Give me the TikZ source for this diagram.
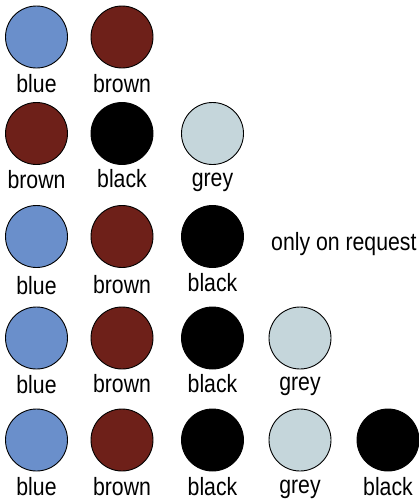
\documentclass[tikz,border=0pt]{standalone}
\usepackage{fontspec}
\newfontfamily\narrowsans{Liberation Sans}[FakeStretch=0.85]
\usetikzlibrary{positioning}
\definecolor{wireblue}{RGB}{106,143,203}
\definecolor{wirebrown}{RGB}{110,32,25}
\definecolor{wiregrey}{RGB}{197,214,219}

\begin{document}
\begin{tikzpicture}[
  x=1pt, y=-1pt,
  font=\narrowsans\fontsize{25}{29}\selectfont,
  swatch/.style={circle, draw=black, line width=0.9pt, fill=#1,
                 minimum size=62pt, inner sep=0pt},
  lbl/.style={anchor=base, inner sep=0pt},
]
\useasboundingbox (0,0) rectangle (419,501);

% ---- Row 1 ----
\node[swatch=wireblue]  (a1) at (36.5,37) {};
\node[swatch=wirebrown] (a2) at (122,37) {};
\node[lbl] (ta1) at (36.5,92) {blue};
\node[lbl] (ta2) at (122,92) {brown};

% ---- Row 2 ----
\node[swatch=wirebrown] (b1) at (36.5,133.5) {};
\node[swatch=black]     (b2) at (122,133.5) {};
\node[swatch=wiregrey]  (b3) at (212.5,133.5) {};
\node[lbl] (tb1) at (36.5,188) {brown};
\node[lbl] (tb2) at (122,187) {black};
\node[lbl] (tb3) at (212.5,186) {grey};

% ---- Row 3 ----
\node[swatch=wireblue]  (c1) at (36.5,236.5) {};
\node[swatch=wirebrown] (c2) at (122,236.5) {};
\node[swatch=black]     (c3) at (212.5,236.5) {};
\node[lbl] (tc1) at (36.5,294) {blue};
\node[lbl] (tc2) at (122,293) {brown};
\node[lbl] (tc3) at (212.5,291) {black};
\node[anchor=base west, inner sep=0pt] (note) at (271,250) {only on request};

% ---- Row 4 ----
\node[swatch=wireblue]  (d1) at (36.5,338) {};
\node[swatch=wirebrown] (d2) at (122,338) {};
\node[swatch=black]     (d3) at (212.5,338) {};
\node[swatch=wiregrey]  (d4) at (300,338) {};
\node[lbl] (td1) at (36.5,393) {blue};
\node[lbl] (td2) at (122,392) {brown};
\node[lbl] (td3) at (212.5,392) {black};
\node[lbl] (td4) at (300,390) {grey};

% ---- Row 5 ----
\node[swatch=wireblue]  (e1) at (36.5,440) {};
\node[swatch=wirebrown] (e2) at (122,440) {};
\node[swatch=black]     (e3) at (212.5,440) {};
\node[swatch=wiregrey]  (e4) at (300,440) {};
\node[swatch=black]     (e5) at (388,440) {};
\node[lbl] (te1) at (36.5,495) {blue};
\node[lbl] (te2) at (122,495) {brown};
\node[lbl] (te3) at (212.5,495) {black};
\node[lbl] (te4) at (300,493) {grey};
\node[lbl] (te5) at (388,495) {black};

\end{tikzpicture}
\end{document}
